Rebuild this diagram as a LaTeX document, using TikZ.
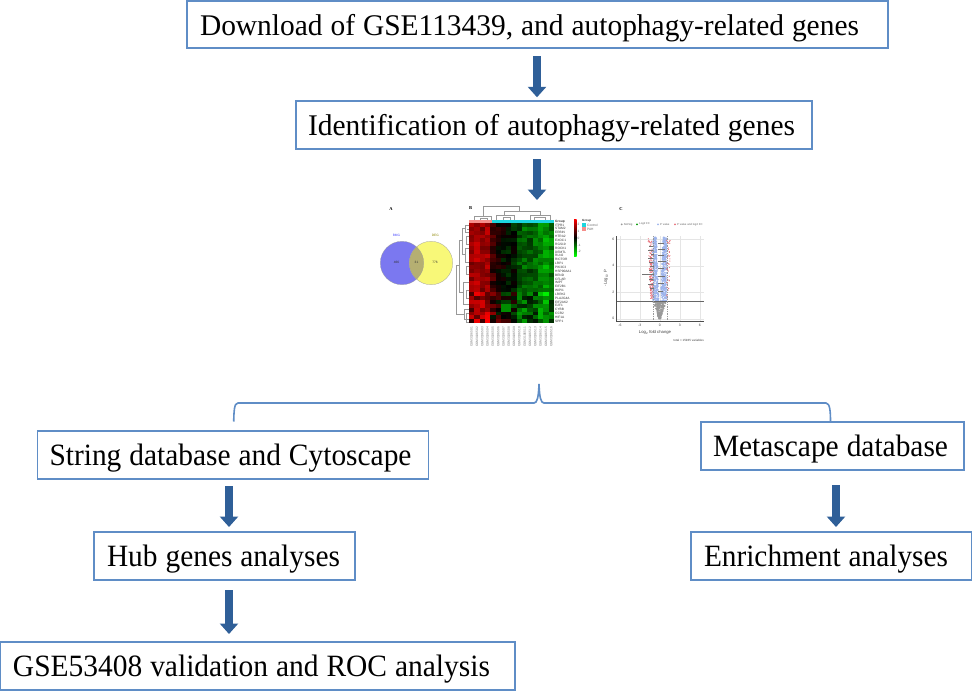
\documentclass[tikz,border=0pt]{standalone}
\usepackage{fontspec}
\setmainfont{Liberation Serif}
\setsansfont{Liberation Sans}
\usetikzlibrary{arrows.meta,calc}
\definecolor{boxblue}{HTML}{5F8DC6}
\definecolor{arrowblue}{HTML}{2F5F98}
\definecolor{venblue}{HTML}{7B78F0}
\definecolor{venyellow}{HTML}{F8F878}
\definecolor{venmix}{HTML}{B5AF72}
\definecolor{annsalmon}{HTML}{F58E8A}
\definecolor{anncyan}{HTML}{1CD6DE}
\definecolor{volblue}{HTML}{9DB4EC}
\definecolor{volred}{HTML}{E8707A}
\tikzset{
  flowbox/.style={draw=boxblue,line width=1.5pt,fill=white,inner sep=0pt,outer sep=0pt,
    minimum height=48pt,align=left,text=black},
  flowarrow/.style={arrowblue,line width=8pt,-{Triangle[width=18pt,length=10.5pt]}},
  bracepath/.style={draw=boxblue,line width=1.6pt},
  dendro/.style={draw=black!40,line width=.25pt},
  tinylab/.style={font=\sffamily\fontsize{3.2}{3.2}\selectfont,inner sep=0pt,text=black!80},
  panellab/.style={font=\bfseries\fontsize{4.5}{4.5}\selectfont,inner sep=0pt},
  voltext/.style={font=\sffamily\fontsize{3.4}{3.4}\selectfont,inner sep=0pt,text=black!75},
}
\newcommand{\boxtxt}[4]{\rule{0pt}{21pt}\hspace*{#1pt}\smash{\resizebox{#2pt}{\height}{\fontsize{#3}{#3}\selectfont\spaceskip=.27em\relax #4}}}
\begin{document}
\begin{tikzpicture}[x=1pt,y=-1pt]
\useasboundingbox (0,0) rectangle (972,691);
\fill[white] (0,0) rectangle (972,691);
% flow boxes
\node[flowbox,text width=701pt,minimum height=47pt] (dl) at (537.5,24.5) {\boxtxt{13}{659}{30}{Download of GSE113439, and autophagy-related genes}};
\node[flowbox,text width=516pt] (id) at (554,125) {\boxtxt{12}{487}{30}{Identification of autophagy-related genes}};
\node[flowbox,text width=391pt] (st) at (233,455) {\boxtxt{12}{362}{31}{String database and Cytoscape}};
\node[flowbox,text width=261pt] (hub) at (224.5,556) {\boxtxt{13}{233}{31}{Hub genes analyses}};
\node[flowbox,text width=515pt] (gse) at (257.5,666) {\boxtxt{13}{477}{31}{GSE53408 validation and ROC analysis}};
\node[flowbox,text width=263pt] (meta) at (832.5,446) {\boxtxt{12}{235}{31}{Metascape database}};
\node[flowbox,text width=281pt] (enr) at (831.5,556) {\boxtxt{13}{244}{31}{Enrichment analyses}};
\coordinate (panels) at (537,200);
% block arrows
\draw[flowarrow,shorten <=8pt,shorten >=3.7pt] (537,0 |- dl.south) -- (537,0 |- id.north);
\draw[flowarrow,shorten <=10pt] (537,0 |- id.south) -- (panels);
\draw[flowarrow,shorten <=7pt,shorten >=5pt] (229,0 |- st.south) -- (229,0 |- hub.north);
\draw[flowarrow,shorten <=10pt,shorten >=8pt] (229,0 |- hub.south) -- (229,0 |- gse.north);
\draw[flowarrow,shorten <=15pt,shorten >=5pt] (836,0 |- meta.south) -- (836,0 |- enr.north);
% brace
\coordinate (bl) at (233.7,421.5);
\coordinate (br) at (830.5,422);
\coordinate (bt) at (539,384);
\draw[bracepath] (bl) .. controls (234,412) and (234,403) .. (238,403) -- (534,403)
  .. controls (537,403) and (538.5,398) .. (bt)
  .. controls (539.5,398) and (541,403) .. (544,403) -- (826,403)
  .. controls (830,403) and (830.5,412) .. (br);
% Venn panel
\node[panellab] (pa) at (391,209) {A};
\fill[venblue] (402,263) circle (21.7);
\fill[venyellow] (431,263) circle (21.7);
\begin{scope}
  \clip (402,263) circle (21.7);
  \fill[venmix] (431,263) circle (21.7);
\end{scope}
\draw[black!40,line width=.25pt] (402,263) circle (21.7);
\draw[black!40,line width=.25pt] (431,263) circle (21.7);
\node[tinylab,text=blue!70] (va) at (396.5,235.7) {BMG};
\node[tinylab,text=olive] (vb) at (435.3,235.7) {DEG};
\node[tinylab] (n1) at (396.5,262) {466};
\node[tinylab] (n2) at (416.5,262) {31};
\node[tinylab] (n3) at (435,262) {776};
% Heatmap panel
\node[panellab] (pb) at (470.5,208) {B};
\fill[annsalmon] (469,220) rectangle (491.5,223);
\fill[anncyan] (491.5,220) rectangle (554,223);
\def\baseA{{0.58,0.66,0.55,0.62,0.22,0.08,-0.02,-0.08,-0.1,-0.3,-0.4,-0.34,-0.42,-0.5,-0.6,-0.48}}
\pgfmathsetseed{4711}
\foreach \rr in {0,...,25}{
  \foreach \cc in {0,...,15}{
    \pgfmathsetmacro\bb{\baseA[\cc]}
    \pgfmathsetmacro\spread{\rr>17 ? 0.7 : 0.32}
    \pgfmathsetmacro\vv{\bb+\spread*(rnd-0.5)}
    \pgfmathsetmacro\rv{max(0,min(1,\vv))}
    \pgfmathsetmacro\gv{max(0,min(1,-\vv))}
    \definecolor{hc}{rgb}{\rv,\gv,0}
    \fill[hc] ({469+\cc*5.31},{223+\rr*3.85}) rectangle ({469+(\cc+1)*5.31+.1},{223+(\rr+1)*3.85+.1});
  }
}
\fill[red] ({469+3*5.31},{223+25*3.85}) rectangle ({469+4*5.31},{223+26*3.85});
\fill[black!85!red] ({469+0*5.31},{223+25*3.85}) rectangle ({469+1*5.31},{223+26*3.85});
\fill[green!55!black] ({469+6*5.31},{223+21*3.85}) rectangle ({469+8*5.31},{223+23*3.85});
\node[tinylab,anchor=west,font=\sffamily\bfseries\fontsize{3.2}{3.2}\selectfont] (hg) at (555,221.3) {Group};
\foreach \g [count=\i from 0] in {ITPR1,STAM2,ERBIN,HTRA2,EXOC1,RGS19,ROCK1,DEMTL,RLN2,RICTOR,LRP1,PIK3C3,HSP90AA1,BEND,CFLAR,IMPT,EIF2B1,WIPI1,LRRK2,PLA2G4A,EIF2AK2,E2F1,CYBB,CCR2,HIF1A,SPP1}
  \node[tinylab,anchor=west] (gene\i) at (555,{225+\i*3.85}) {\g};
\foreach \s [count=\i from 0] in {GSM3106501,GSM3106502,GSM3106503,GSM3106504,GSM3106505,GSM3106506,GSM3106507,GSM3106508,GSM3106509,GSM3106510,GSM3106511,GSM3106512,GSM3106513,GSM3106514,GSM3106515,GSM3106516}
  \node[tinylab,rotate=90,anchor=east,text=black!55] (sam\i) at ({471.6+\i*5.31},327) {\s};
% dendrograms
\draw[dendro] (483,216) -- (483,206.5) -- (519,206.5) -- (519,211) (474,220) -- (474,216) -- (491,216) -- (491,220)
  (480,220) -- (480,218) -- (487,218) -- (487,220)
  (504,215) -- (504,211) -- (540,211) -- (540,215)
  (496,220) -- (496,215) -- (514,215) -- (514,220)
  (503,220) -- (503,217) -- (510,217) -- (510,220)
  (530,220) -- (530,215) -- (550,215) -- (550,220)
  (534,220) -- (534,217.5) -- (545,217.5) -- (545,220);
\draw[dendro] (469,225) -- (465,225) -- (465,232) -- (469,232)
  (469,229) -- (467,229) (469,236) -- (466,236) -- (466,244) -- (469,244)
  (465,228) -- (462,228) -- (462,254) -- (465,254)
  (469,248) -- (465,248) -- (465,262) -- (469,262)
  (469,266) -- (466,266) -- (466,274) -- (469,274)
  (462,240) -- (459,240) -- (459,292) -- (463,292)
  (469,282) -- (463,282) -- (463,304) -- (469,304)
  (469,290) -- (466,290) -- (466,298) -- (469,298)
  (469,309) -- (464,309) -- (464,319) -- (469,319)
  (469,313) -- (466,313) -- (466,322) -- (469,322)
  (459,265) -- (456,265) -- (456,314) -- (464,314);
% heat legend
\shade[top color=red,bottom color=green,middle color=black] (574,219) rectangle (576.5,256);
\foreach \t/\yy in {2/224,1/231,0/238,-1/245,-2/251}
  \node[tinylab,anchor=west,text=black!60] (sc\yy) at (577.5,\yy) {\t};
\node[tinylab,anchor=west,font=\sffamily\bfseries\fontsize{3}{3}\selectfont] (lg) at (582,220.5) {Group};
\fill[anncyan] (582,223) rectangle (586,227);
\fill[annsalmon] (582,227) rectangle (586,231);
\node[tinylab,anchor=west,text=black!60] (lc) at (587,225) {Control};
\node[tinylab,anchor=west,text=black!60] (lp) at (587,229) {PAH};
% Volcano panel
\node[panellab] (pc) at (621,209) {C};
\begin{scope}
\clip (615,232) rectangle (704,345);
\foreach \xx in {620,639.7,659.7,679.7,699.7}
  \draw[black!10,line width=.25pt] (\xx,236) -- (\xx,321);
\foreach \yy in {239,265.7,292,318.7}
  \draw[black!10,line width=.25pt] (617,\yy) -- (704,\yy);
\pgfmathsetseed{99}
\foreach \k in {1,...,240}{
  \pgfmathsetmacro\hh{rnd*17.7}
  \pgfmathsetmacro\wd{0.8+\hh*0.33}
  \pgfmathsetmacro\px{659.7+\wd*(2*rnd-1)}
  \fill[black!40] (\px,{318.7-\hh}) circle (.8);
}
\foreach \k in {1,...,650}{
  \pgfmathsetmacro\hh{rnd*64+17.5}
  \pgfmathsetmacro\gp{0.8+(\hh-17)*0.04}
  \pgfmathsetmacro\sgn{rnd<0.5 ? -1 : 1}
  \pgfmathsetmacro\off{\gp+rnd*(6.8-\gp)}
  \fill[volblue] ({659.7+\sgn*\off},{318.7-\hh}) circle (.85);
}
\foreach \k in {1,...,170}{
  \pgfmathsetmacro\hh{rnd*60+20}
  \pgfmathsetmacro\off{7.2+rnd*(1.5+\hh*0.035)}
  \pgfmathsetmacro\px{rnd<0.7 ? 659.7-\off : 659.7+\off*0.95}
  \fill[volred] (\px,{318.7-\hh}) circle (.6);
}
\foreach \yy/\ll in {246/5,250/6,254/3,258/6,262/5,266/4,270/5,274/12,279/5,284/6,288/4}
  \draw[black!55,line width=.3pt] (654,\yy) -- ++({-\ll},0);
\foreach \yy/\ll in {243/6,249/7,255/6,261/8,268/6,276/7,283/6,291/5}
  \draw[black!55,line width=.3pt] (658,\yy) -- ++(\ll,0);
\draw[black!60,line width=.3pt] (617,301) -- (704,301);
\draw[black!40,line width=.25pt,dash pattern=on 1pt off .7pt] (652.7,236) -- (652.7,321) (666.7,236) -- (666.7,321);
\end{scope}
\draw[black!70,line width=.45pt] (616,236) -- (616,321.7) -- (704,321.7);
\foreach \t/\xx in {-6/620,-3/639.7,0/659.7,3/679.7,6/699.7}
  \node[voltext] (xt\xx) at (\xx,325) {\t};
\foreach \t/\yy in {6/239,4/265.7,2/292,0/318.7}
  \node[voltext,anchor=east] (yt\t) at (614.5,\yy) {\t};
\node[voltext,font=\sffamily\fontsize{4.2}{4.2}\selectfont] (xl) at (655,332) {Log\textsubscript{2} fold change};
\node[voltext,rotate=90,font=\sffamily\fontsize{4.2}{4.2}\selectfont] (yl) at (606,278) {-Log\textsubscript{10} P};
\node[voltext,anchor=east,font=\sffamily\fontsize{3}{3}\selectfont] (tot) at (704,340) {total = 15935 variables};
\foreach \xx/\cl/\lb in {621.7/black!40/NotSig,637/green!60!black/Log2 FC,658/volblue/P value,675/volred/P value and log2 FC}{
  \fill[\cl] (\xx,224.3) circle (1);
  \node[voltext,anchor=west,font=\sffamily\fontsize{2.8}{2.8}\selectfont,text=black!60] at (\xx+2,224.3) {\lb};
}
\end{tikzpicture}
\end{document}
